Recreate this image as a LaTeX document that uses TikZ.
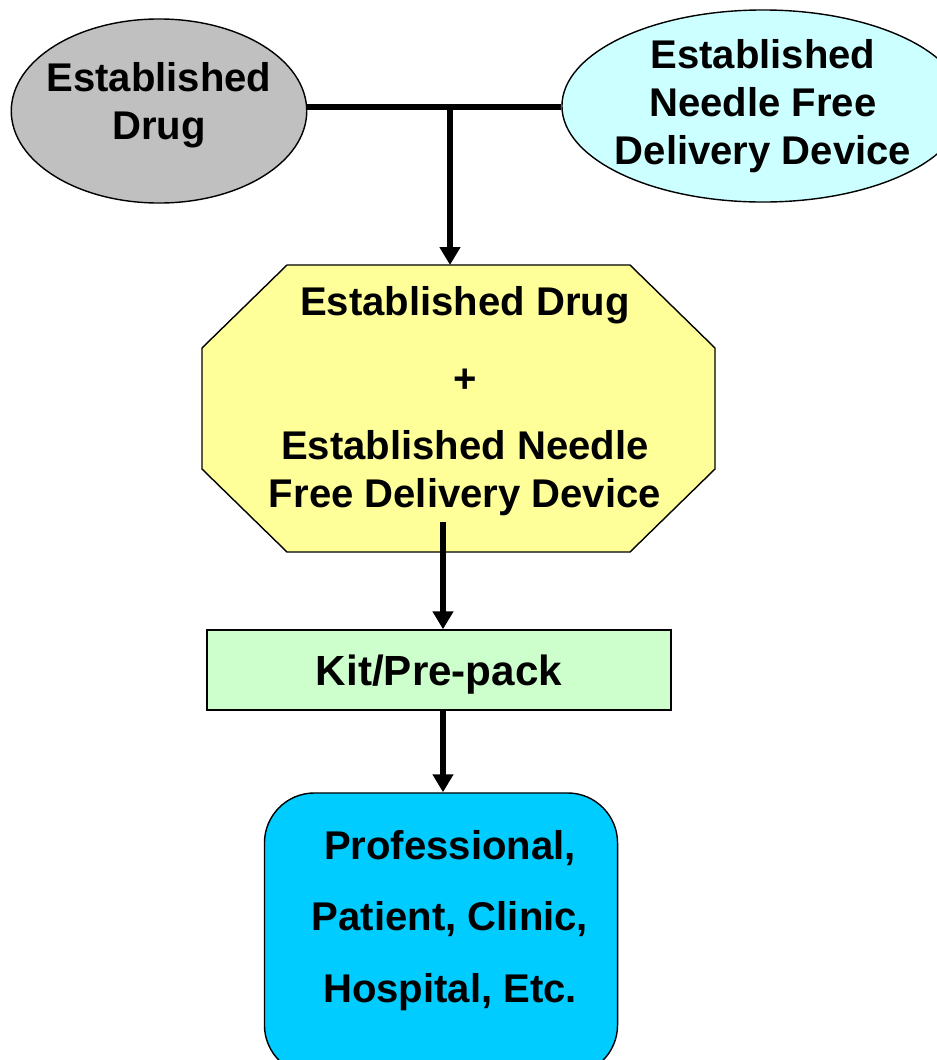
\documentclass[tikz,border=0pt]{standalone}
\usepackage{fontspec}
\setmainfont{Liberation Sans}
\usetikzlibrary{shapes.geometric,arrows.meta}

\definecolor{drugcol}{HTML}{C0C0C0}
\definecolor{devicecol}{HTML}{CCFFFF}
\definecolor{combocol}{HTML}{FFFF99}
\definecolor{kitcol}{HTML}{CCFFCC}
\definecolor{usercol}{HTML}{00CCFF}

\begin{document}
\begin{tikzpicture}[x=0.025cm, y=-0.025cm,
                    every node/.style={font=\fontsize{28.5}{34}\selectfont\bfseries, align=center, inner sep=0pt},
                    box/.style={draw, line width=1pt},
                    blob/.style={box, ellipse},
                    wire/.style={line width=4.3pt},
                    link/.style={wire, -{Triangle[length=0.45cm, width=0.5cm]}}]

                            \clip (0,0) rectangle (937,1060);

                            \node[blob, fill=drugcol, inner xsep=-0.2cm, text depth=0.5cm,
                                  minimum width=7.35cm, minimum height=4.6cm] (drug) at (159,111) {Established\\Drug};
                            \node[blob, fill=devicecol, inner xsep=-0.15cm,
                                  minimum width=9.9cm, minimum height=4.8cm] (device) at (763,106) {Established\\Needle Free\\Delivery Device};

                            \draw[box, fill=combocol] (287,265) -- (630,265) -- (715,348) -- (715,469)
                                                     -- (630,552) -- (287,552) -- (202,469) -- (202,348) -- cycle;
                            \node (combo) at (465,401) {Established Drug\\[21pt]+\\[14pt]Established Needle\\Free Delivery Device};

                            \node[box, fill=kitcol, font=\fontsize{30}{36}\selectfont\bfseries, text height=0.975cm,
                                  minimum width=11.6cm, minimum height=2cm] (kit) at (439,670) {Kit/Pre-pack};
                            \node[box, rounded corners=1.25cm, fill=usercol, font=\fontsize{28.5}{51}\selectfont\bfseries,
                                  text depth=0.88cm, minimum width=8.825cm, minimum height=7.05cm] (user) at (441,934)
                                  {\hspace*{0.45cm}Professional,\\\hspace*{0.45cm}Patient, Clinic,\\\hspace*{0.45cm}Hospital, Etc.};

                            \coordinate (join) at (450,107);
                            \coordinate (combo top) at (450,265);
                            \coordinate (split) at (443,522);

                            \draw[wire] (drug.east |- join) -- (device.west |- join);
                            \draw[link] (join) -- (combo top);
                            \draw[link] (split) -- (split |- kit.north);
                            \draw[link] (kit.south -| split) -- (split |- user.north);
                        \end{tikzpicture}
\end{document}
